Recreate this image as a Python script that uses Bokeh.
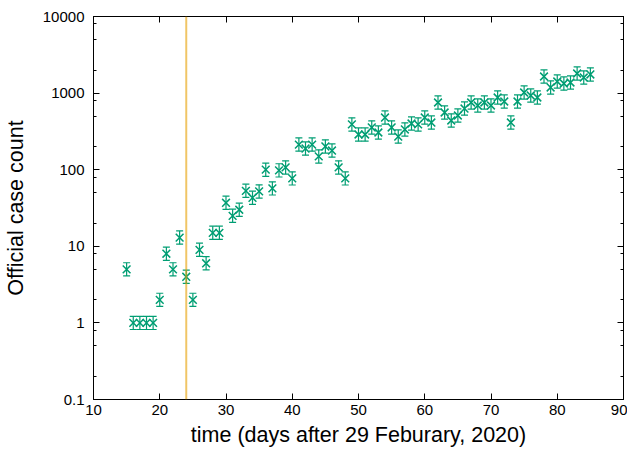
from bokeh.plotting import figure
from bokeh.models import (ColumnDataSource, Whisker, TeeHead, Span, LogAxis, LinearAxis,
                          FixedTicker, CustomJSTickFormatter, Range1d)
from bokeh.embed import file_html
from bokeh.resources import INLINE

# ---- data ----
days = list(range(15, 86))
cases = [5, 1, 1, 1, 1, 2, 8, 5, 13, 4,
         2, 9, 6, 15, 15, 37, 25, 30, 53, 43,
         52, 100, 57, 98, 107, 77, 213, 189, 213, 149,
         201, 178, 107, 77, 390, 288, 288, 356, 306, 480,
         356, 271, 335, 401, 390, 480, 413, 754, 558, 439,
         510, 629, 754, 689, 754, 689, 876, 777, 413, 777,
         1018, 930, 876, 1647, 1184, 1417, 1334, 1375, 1802, 1598,
         1750]
err_factor = 1.22
lockdown_day = 24
x_ticks = [10, 20, 30, 40, 50, 60, 70, 80, 90]
y_major = [0.1, 1, 10, 100, 1000, 10000]
y_minor_mant = [2, 5, 8]

GREEN = "#009e73"
ORANGE = "#e69f00"
FONT = "Liberation Sans"

y_minor = [m * d for d in y_major[:-1] for m in y_minor_mant]

src = ColumnDataSource(dict(
    x=days, y=cases,
    upper=[c * err_factor for c in cases],
    lower=[c / err_factor for c in cases],
))

p = figure(frame_width=530, frame_height=383, x_range=Range1d(10, 90), y_range=Range1d(0.1, 10000),
           y_axis_type="log", output_backend="svg", toolbar_location=None,
           min_border_left=85, min_border_right=4, min_border_top=16, min_border_bottom=48)
p.grid.visible = False
p.outline_line_color = "black"
p.outline_line_width = 1

span = Span(location=lockdown_day, dimension="height", line_color=ORANGE,
            line_width=2, line_alpha=0.6)
p.add_layout(span)

w = Whisker(source=src, base="x", upper="upper", lower="lower", dimension="height",
            line_color=GREEN, line_width=1.2,
            upper_head=TeeHead(size=7, line_color=GREEN, line_width=1.2),
            lower_head=TeeHead(size=7, line_color=GREEN, line_width=1.2))
p.add_layout(w)
p.scatter("x", "y", source=src, marker="x", size=11, line_color=GREEN, line_width=1.5)

xt = FixedTicker(ticks=x_ticks, minor_ticks=[])
yt = FixedTicker(ticks=y_major, minor_ticks=y_minor)

def style(ax, labels=True):
    ax.axis_line_color = "black"
    ax.major_tick_in = 6
    ax.major_tick_out = 0
    ax.minor_tick_in = 3
    ax.minor_tick_out = 0
    ax.major_tick_line_color = "black"
    ax.minor_tick_line_color = "black"
    if labels:
        ax.major_label_text_font = FONT
        ax.major_label_text_font_size = "15px"
        ax.major_label_text_color = "black"
        ax.axis_label_text_font = FONT
        ax.axis_label_text_font_size = "21.5px"
        ax.axis_label_text_font_style = "normal"
        ax.axis_label_text_color = "black"
    else:
        ax.formatter = CustomJSTickFormatter(code="return ''")
        ax.major_label_text_font_size = "1px"
        ax.major_label_standoff = 0

xa = p.xaxis[0]
xa.ticker = xt
xa.axis_label = "time (days after 29 Feburary, 2020)"
style(xa)
xa.major_label_standoff = 5
xa.axis_label_standoff = 5

ya = p.yaxis[0]
ya.ticker = yt
ya.axis_label = "Official case count"
style(ya)
ya.major_label_standoff = 9
ya.axis_label_standoff = 12
ya.major_label_overrides = {0.1: "0.1", 1: "1", 10: "10", 100: "100", 1000: "1000", 10000: "10000"}

top = LinearAxis(ticker=FixedTicker(ticks=x_ticks, minor_ticks=[]))
style(top, labels=False)
p.add_layout(top, "above")

right = LogAxis(ticker=FixedTicker(ticks=y_major, minor_ticks=y_minor))
style(right, labels=False)
p.add_layout(right, "right")

open("out.html", "w").write(file_html(p, INLINE))
